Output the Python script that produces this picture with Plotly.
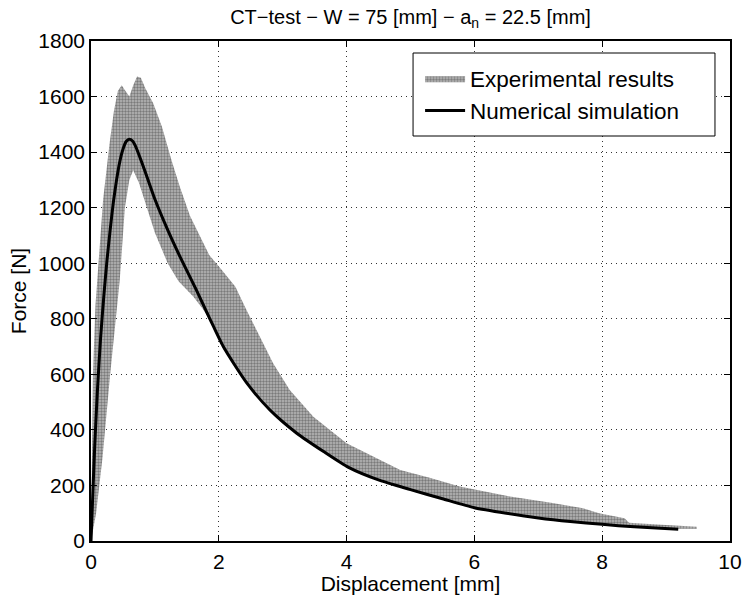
import plotly.graph_objects as go

# ---- data ----
sim_x = [0, 0.03, 0.06, 0.1, 0.15, 0.2, 0.25, 0.3, 0.35, 0.4, 0.45, 0.5, 0.55, 0.6,
         0.65, 0.7, 0.8, 0.9, 1.0, 1.2, 1.4, 1.65, 1.86, 2.07, 2.44, 2.8, 3.22,
         3.64, 4.03, 4.52, 5.0, 5.5, 6.0, 6.5, 7.0, 7.5, 8.0, 8.5, 9.19]
sim_y = [0, 180, 350, 540, 730, 880, 1010, 1120, 1220, 1300, 1365, 1410, 1438, 1446,
         1440, 1420, 1360, 1295, 1230, 1120, 1020, 903, 800, 700, 568, 472, 388,
         322, 265, 218, 185, 152, 120, 100, 83, 70, 60, 51, 42]

band_upper_x = [0, 0.01, 0.03, 0.07, 0.12, 0.19, 0.29, 0.36, 0.42, 0.48, 0.54, 0.60,
                0.66, 0.72, 0.78, 0.85, 0.975, 1.11, 1.26, 1.39, 1.55, 1.706, 1.85,
                2.05, 2.26, 2.435, 2.64, 2.85, 3.11, 3.48, 4.0, 4.52, 4.84, 5.3,
                5.77, 6.56, 7.2, 7.7, 7.95, 8.35, 8.42, 9.0, 9.48]
band_upper_y = [0, 300, 600, 850, 1000, 1230, 1430, 1550, 1620, 1641, 1620, 1600,
                1640, 1672, 1668, 1630, 1575, 1491, 1371, 1275, 1170, 1095, 1030,
                975, 915, 831, 735, 640, 544, 447, 352, 292, 256, 228,
                196, 160, 138, 118, 100, 82, 66, 58, 51]

band_lower_x = [0, 0.08, 0.18, 0.3, 0.45, 0.53, 0.6, 0.66, 0.75, 0.85, 1.0, 1.2,
                1.37, 1.6, 1.75, 1.86, 2.07, 2.44, 3.22, 4.03, 5.0, 6.0, 7.0, 8.0,
                8.5, 9.0, 9.48]
band_lower_y = [0, 100, 300, 600, 940, 1200, 1300, 1335, 1290, 1220, 1110, 1000,
                935, 880, 835, 796, 696, 564, 384, 261, 182, 117, 80, 57,
                49, 44, 44]

x_ticks = [0, 2, 4, 6, 8, 10]
y_ticks = [0, 200, 400, 600, 800, 1000, 1200, 1400, 1600, 1800]

FONT = "Liberation Sans, Arial, Helvetica, sans-serif"

poly_x = band_upper_x + band_lower_x[::-1]
poly_y = band_upper_y + band_lower_y[::-1]

fig = go.Figure()
fig.add_trace(go.Scatter(
    x=poly_x, y=poly_y, mode="lines", fill="toself",
    line=dict(width=0, color="rgba(0,0,0,0)"),
    fillcolor="#a8a8a8",
    fillpattern=dict(shape=".", fgcolor="#3c3c3c", bgcolor="#b8b8b8",
                     size=3, solidity=0.5),
    name="Experimental results", hoverinfo="skip"))
fig.add_trace(go.Scatter(
    x=sim_x, y=sim_y, mode="lines",
    line=dict(color="black", width=3, shape="spline", smoothing=0.6),
    name="Numerical simulation"))

axis_common = dict(
    showline=True, linecolor="black", linewidth=1.5, mirror="ticks",
    ticks="inside", ticklen=6, tickwidth=1, tickcolor="black",
    showgrid=True, gridcolor="#333333", gridwidth=1, griddash="1px,4px",
    zeroline=False, automargin=False,
    tickfont=dict(size=21, color="black", family=FONT),
)

fig.update_xaxes(range=[0, 10], tickvals=x_ticks, ticklabelstandoff=1,
                 title=dict(text="Displacement [mm]", standoff=1,
                            font=dict(size=21, color="black", family=FONT)),
                 **axis_common)
fig.update_yaxes(range=[0, 1800], tickvals=y_ticks,
                 title=dict(text="Force [N]", standoff=6,
                            font=dict(size=21, color="black", family=FONT)),
                 **axis_common)

# legend frame (MATLAB-style box with generous padding)
fig.add_shape(type="rect", xref="paper", yref="paper",
              x0=0.504, x1=0.9765, y0=0.81, y1=0.976,
              line=dict(color="black", width=1), fillcolor="white", layer="above")

fig.update_layout(
    width=744, height=595,
    margin=dict(l=91, r=14, t=41, b=54, autoexpand=False),
    paper_bgcolor="white", plot_bgcolor="white",
    font=dict(family=FONT, size=21, color="black"),
    title=dict(text="CT−test − W = 75 [mm] − a<sub>n</sub> = 22.5 [mm]",
               x=0.5, xref="paper", xanchor="center",
               y=1 - 17 / 595, yanchor="middle",
               font=dict(size=20, color="black", family=FONT)),
    legend=dict(x=0.515, y=0.968, xanchor="left", yanchor="top",
                bgcolor="rgba(0,0,0,0)", borderwidth=0,
                font=dict(size=22.5, color="black", family=FONT),
                itemwidth=40, tracegroupgap=0),
    showlegend=True,
)

fig.write_html("out.html")
